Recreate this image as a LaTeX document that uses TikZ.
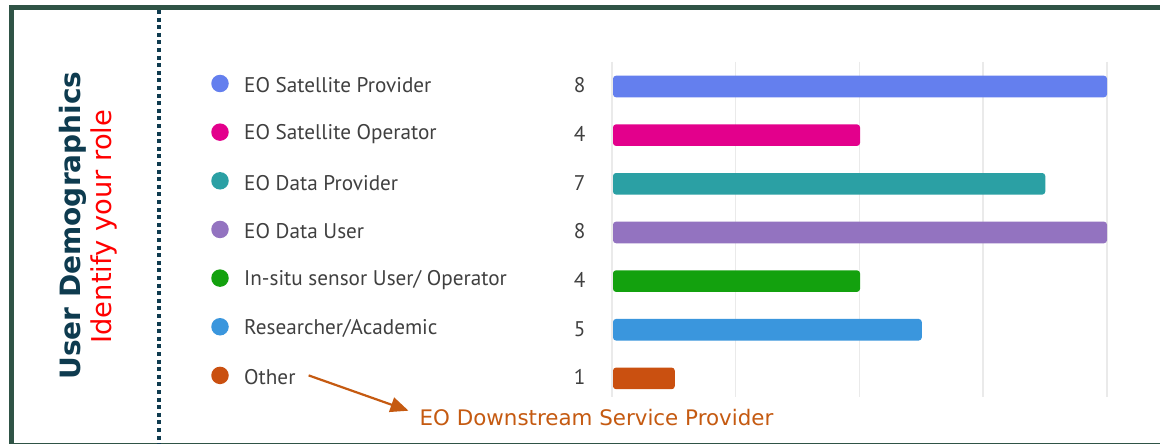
\documentclass[tikz,border=0pt]{standalone}
\usepackage{fontspec}
\setmainfont{DejaVu Sans}
\newfontfamily\lblfont{PT Sans}
\newfontfamily\ttlfont{DejaVu Sans}
\usetikzlibrary{arrows.meta}
\definecolor{framegreen}{HTML}{2F5446}
\definecolor{titlenavy}{HTML}{0E3B4F}
\definecolor{lblgray}{HTML}{404040}
\definecolor{gridgray}{HTML}{EAEAEA}
\definecolor{cA}{HTML}{647FEE}
\definecolor{cB}{HTML}{E3008C}
\definecolor{cC}{HTML}{2BA0A4}
\definecolor{cD}{HTML}{9373C0}
\definecolor{cE}{HTML}{13A10E}
\definecolor{cF}{HTML}{3A96DD}
\definecolor{cG}{HTML}{CA5010}
\definecolor{annot}{HTML}{C55A11}
\tikzset{
  legdot/.style={circle, inner sep=0pt, minimum size=17.5pt},
  lbl/.style={anchor=west, inner sep=0pt, text=lblgray, font=\lblfont\fontsize{21.2}{25}\selectfont},
  num/.style={anchor=east, inner sep=0pt, text=lblgray, font=\lblfont\fontsize{21.2}{25}\selectfont},
  bar/.style={rounded corners=3pt},
  gridln/.style={gridgray, line width=1.5pt},
}
\begin{document}
\begin{tikzpicture}[x=1pt,y=-1pt]
\useasboundingbox (0,0) rectangle (1160,444);
\fill[white] (0,0) rectangle (1160,444);
% frame
\draw[framegreen, line width=4.5pt] (11.7,7.5) rectangle (1175,445.5);
% dotted separator
\draw[titlenavy, line width=3.4pt, dash pattern=on 4pt off 3.6pt] (159,10) -- (159,444);
% titles
\node[rotate=90, anchor=base, inner sep=0pt, text=titlenavy, font=\ttlfont\bfseries\fontsize{28}{32}\selectfont] (ttl) at (80,225.5) {User Demographics};
\node[rotate=90, anchor=base, inner sep=0pt, text=red, font=\ttlfont\fontsize{27.3}{31}\selectfont] (sub) at (111.7,226.7) {Identify your role};
% grid
\foreach \gx/\gn in {612/g0,735.7/g1,859.5/g2,983.2/g3,1107/g4}
  \draw[gridln] (\gx,62) coordinate (\gn) -- (\gx,397);
% rows
\foreach \i/\name/\val/\col in {
  0/{EO Satellite Provider}/8/cA,
  1/{EO Satellite Operator}/4/cB,
  2/{EO Data Provider}/7/cC,
  3/{EO Data User}/8/cD,
  4/{In-situ sensor User/ Operator}/4/cE,
  5/{Researcher/Academic}/5/cF,
  6/{Other}/1/cG}{
  \pgfmathsetmacro{\ry}{85.5+48.65*\i}
  \node[legdot, fill=\col] (dot\i) at (220,\ry-2) {};
  \node[lbl] (lbl\i) at (244,\ry) {\name};
  \node[num] (num\i) at (585.5,\ry) {\val};
  \pgfmathsetmacro{\bx}{613+61.75*\val}
  \fill[bar, \col] (613,\ry-9.8) rectangle (\bx,\ry+11.8);
}
% annotation
\node[anchor=base west, inner sep=0pt, text=annot, font=\fontsize{21.4}{25}\selectfont] (ds) at (419.5,425.7) {EO Downstream Service Provider};
\draw[annot, line width=2.2pt, -{Triangle[length=18pt,width=15pt]}] ([xshift=13pt,yshift=2pt]lbl6.east) -- ([xshift=-11pt,yshift=15pt]ds.base west);
\end{tikzpicture}
\end{document}
